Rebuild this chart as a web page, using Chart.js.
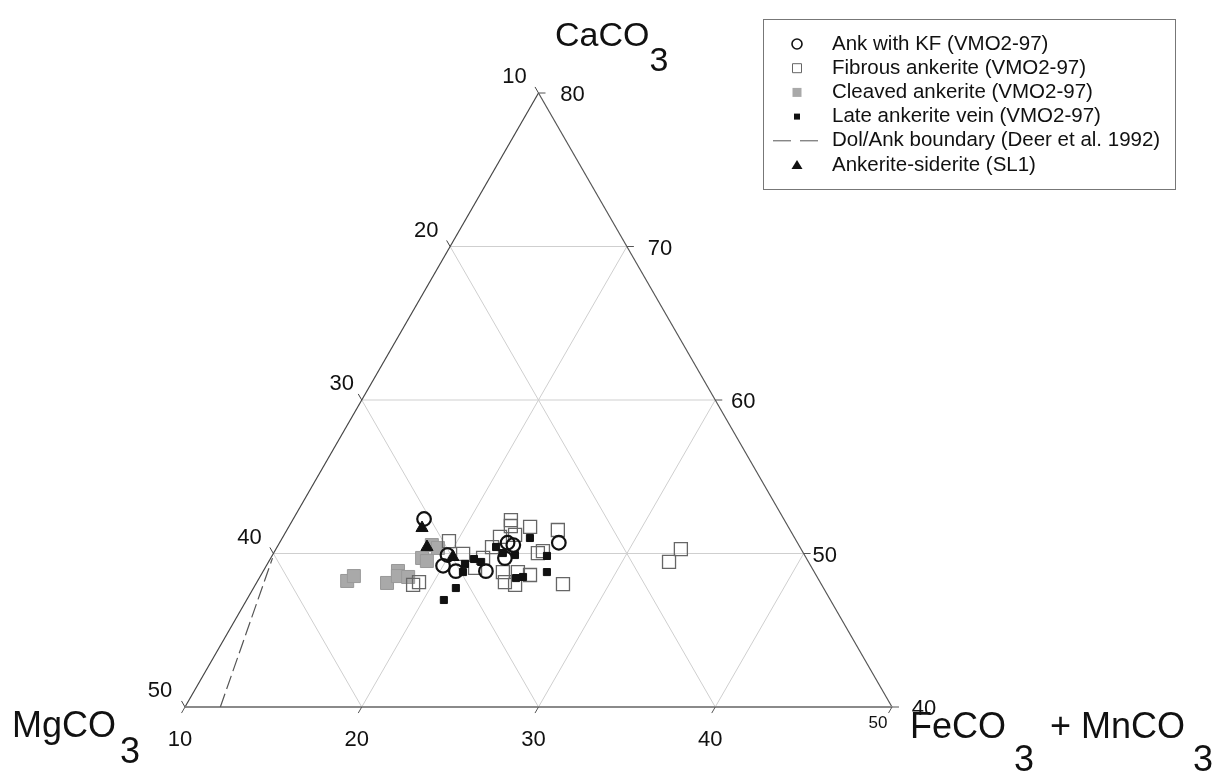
<!DOCTYPE html>
<html><head><meta charset="utf-8">
<script src="https://cdn.jsdelivr.net/npm/chart.js@4/dist/chart.umd.min.js"></script>
<style>html,body{margin:0;padding:0;background:#fff;}#wrap{width:1218px;height:782px;}</style>
</head><body><div id="wrap"><canvas id="c" width="1218" height="782"></canvas></div>
<script>
// ---- tick labels of the three ternary axes ----
const bottomTicks = [10, 20, 30, 40, 50];   // FeCO3 + MnCO3
const leftTicks   = [10, 20, 30, 40, 50];   // MgCO3 (apex -> bottom-left)
const rightTicks  = [80, 70, 60, 50, 40];   // CaCO3 (apex -> bottom-right)

// ---- series (FeCO3+MnCO3 %, CaCO3 %) ----
const ankKF_Fe = [17.4, 19.9, 20.0, 20.9, 22.6, 23.25, 22.9, 23.3, 25.8];
const ankKF_Ca = [52.25, 49.9, 49.2, 48.85, 48.85, 49.7, 50.7, 50.55, 50.7];

const fibrous_Fe = [18.93, 19.17, 19.53, 20.75, 21.88, 22.01, 22.16, 22.28, 22.35, 22.54, 23.07, 23.66, 25.33, 23.59, 24.03, 24.70, 24.44, 25.22, 24.95, 25.17, 27.38, 32.91, 32.66];
const fibrous_Ca = [47.95, 48.14, 50.81, 49.97, 49.06, 49.71, 50.42, 51.08, 52.18, 51.79, 51.21, 51.73, 51.53, 48.79, 48.14, 47.95, 48.79, 48.60, 50.03, 50.16, 48.01, 50.29, 49.45];

const cleaved_Fe = [15.07, 15.29, 17.39, 17.62, 17.78, 18.39, 18.56, 18.93, 18.69, 19.13];
const cleaved_Ca = [48.21, 48.53, 48.08, 48.86, 48.53, 48.47, 49.71, 49.51, 50.55, 50.36];

const late_Fe = [21.45, 21.16, 21.18, 21.33, 21.53, 22.03, 22.39, 22.97, 23.72, 24.01, 25.56, 26.08, 24.53, 24.89];
const late_Ca = [47.75, 46.97, 49.32, 48.79, 49.64, 49.45, 50.42, 50.03, 49.90, 51.01, 49.84, 48.79, 48.40, 48.47];

const sl1_Fe = [17.58, 18.48, 20.27];
const sl1_Ca = [51.66, 50.42, 49.77];

const boundary_Fe = [12.0, 10.1];
const boundary_Ca = [40.0, 49.7];

const seriesNames = ['Ank with KF (VMO2-97)', 'Fibrous ankerite (VMO2-97)', 'Cleaved ankerite (VMO2-97)',
  'Late ankerite vein (VMO2-97)', 'Dol/Ank boundary (Deer et al. 1992)', 'Ankerite-siderite (SL1)'];

// ternary (Fe, Ca) -> cartesian in bottom-axis units
const T = (fe, ca) => ({ x: fe + (ca - 40) / 2, y: ca });
const pts = (fe, ca) => fe.map((f, i) => T(f, ca[i]));

const FONT = '"Liberation Sans", Arial, Helvetica, sans-serif';

function P(chart, fe, ca) {
  const p = T(fe, ca);
  return [chart.scales.x.getPixelForValue(p.x), chart.scales.y.getPixelForValue(p.y)];
}

function chem(ctx, parts, x, y, size, subDrop, preGap, postGap) {
  ctx.font = size + 'px ' + FONT;
  ctx.textAlign = 'left'; ctx.textBaseline = 'alphabetic';
  let cx = x;
  parts.forEach(([t, sub]) => {
    if (sub) cx += preGap;
    ctx.fillText(t, cx, sub ? y + subDrop : y);
    cx += ctx.measureText(t).width + (sub ? postGap : 0);
  });
}

const frame = {
  id: 'frame',
  beforeDatasetsDraw(chart) {
    const ctx = chart.ctx;
    ctx.save();
    const line = (a, b, color, w) => {
      ctx.beginPath(); ctx.moveTo(a[0], a[1]); ctx.lineTo(b[0], b[1]);
      ctx.strokeStyle = color; ctx.lineWidth = w; ctx.stroke();
    };
    const grid = '#cfcfcf';
    rightTicks.slice(1, -1).forEach(c => line(P(chart, 10, c), P(chart, 90 - c, c), grid, 1));
    bottomTicks.slice(1, -1).forEach(f => line(P(chart, f, 40), P(chart, f, 90 - f), grid, 1));
    leftTicks.slice(1, -1).forEach(m => line(P(chart, 60 - m, 40), P(chart, 10, 90 - m), grid, 1));

    // sides
    line(P(chart, 10, 40), P(chart, 10, 80), '#444', 1.2);
    line(P(chart, 50, 40), P(chart, 10, 80), '#555', 1.2);
    line(P(chart, 10, 40), P(chart, 50, 40), '#8a8a8a', 2);

    // ticks + labels
    const L = 7;
    ctx.fillStyle = '#111';
    ctx.textAlign = 'center'; ctx.textBaseline = 'middle';
    const leftDx = [-24, -24, -20, -24, -25];
    leftTicks.forEach((m, i) => {
      const p = P(chart, 10, 90 - m);
      line(p, [p[0] - 0.5 * L, p[1] - 0.866 * L], '#444', 1);
      ctx.font = '22px ' + FONT;
      ctx.fillText(String(m), p[0] + leftDx[i], p[1] - 16);
    });
    const rightDx = [34, 33, 28, 21, 32];
    rightTicks.forEach((c, i) => {
      const p = P(chart, 90 - c, c);
      line(p, [p[0] + L, p[1]], '#555', 1);
      ctx.font = '22px ' + FONT;
      ctx.fillText(String(c), p[0] + rightDx[i], p[1] + 2);
    });
    bottomTicks.forEach((f, i) => {
      const p = P(chart, f, 40);
      line(p, [p[0] - 0.5 * L, p[1] + 0.866 * L], '#555', 1);
      if (i === bottomTicks.length - 1) {
        ctx.font = '17px ' + FONT;
        ctx.fillText(String(f), p[0] - 14, p[1] + 16);
      } else {
        ctx.font = '22px ' + FONT;
        ctx.fillText(String(f), p[0] - 5, p[1] + 33);
      }
    });

    // axis titles
    ctx.fillStyle = '#111';
    chem(ctx, [['CaCO', 0], ['3', 1]], 555, 46, 34, 25, 0, 0);
    chem(ctx, [['MgCO', 0], ['3', 1]], 12, 737, 36, 26, 4, 0);
    chem(ctx, [['FeCO', 0], ['3', 1], ['+ MnCO', 0], ['3', 1]], 910, 738, 36, 33, 8, 16);
    ctx.restore();
  },
  afterDraw(chart) {
    const ctx = chart.ctx;
    ctx.save();
    const bx = 763, by = 19, bw = 412, bh = 170;
    ctx.strokeStyle = '#777'; ctx.lineWidth = 1;
    ctx.strokeRect(bx + 0.5, by + 0.5, bw, bh);
    const mx = 797, tx = 832, y0 = 44, dy = 24.2;
    ctx.font = '20.5px ' + FONT; ctx.fillStyle = '#111';
    ctx.textAlign = 'left'; ctx.textBaseline = 'middle';
    seriesNames.forEach((name, i) => {
      const y = y0 + i * dy;
      ctx.fillStyle = '#111';
      ctx.fillText(name, tx, y);
      ctx.beginPath();
      if (i === 0) {
        ctx.arc(mx, y, 5, 0, Math.PI * 2); ctx.strokeStyle = '#111'; ctx.lineWidth = 1.6; ctx.stroke();
      } else if (i === 1) {
        ctx.rect(mx - 4.5, y - 4.5, 9, 9); ctx.strokeStyle = '#666'; ctx.lineWidth = 1; ctx.stroke();
      } else if (i === 2) {
        ctx.rect(mx - 4.5, y - 4.5, 9, 9); ctx.fillStyle = '#a9a9a9'; ctx.fill();
      } else if (i === 3) {
        ctx.rect(mx - 3, y - 3, 6, 6); ctx.fillStyle = '#111'; ctx.fill();
      } else if (i === 4) {
        ctx.setLineDash([18, 9]); ctx.moveTo(773, y); ctx.lineTo(818, y);
        ctx.strokeStyle = '#555'; ctx.lineWidth = 1; ctx.stroke(); ctx.setLineDash([]);
      } else {
        ctx.moveTo(mx, y - 5); ctx.lineTo(mx + 5.5, y + 4); ctx.lineTo(mx - 5.5, y + 4); ctx.closePath();
        ctx.fillStyle = '#111'; ctx.fill();
      }
    });
    ctx.restore();
  }
};

new Chart(document.getElementById('c'), {
  type: 'scatter',
  data: {
    datasets: [
      { label: seriesNames[5], data: pts(sl1_Fe, sl1_Ca), order: 0, pointStyle: 'triangle',
        pointRadius: 7, backgroundColor: '#111', borderColor: '#111', borderWidth: 1 },
      { label: seriesNames[0], data: pts(ankKF_Fe, ankKF_Ca), order: 1, pointStyle: 'circle',
        pointRadius: 6.8, backgroundColor: 'rgba(0,0,0,0)', borderColor: '#111', borderWidth: 2.2 },
      { label: seriesNames[3], data: pts(late_Fe, late_Ca), order: 2, pointStyle: 'rect',
        pointRadius: 5, backgroundColor: '#111', borderColor: '#111', borderWidth: 1 },
      { label: seriesNames[1], data: pts(fibrous_Fe, fibrous_Ca), order: 3, pointStyle: 'rect',
        pointRadius: 9.2, backgroundColor: 'rgba(0,0,0,0)', borderColor: '#666', borderWidth: 1.3 },
      { label: seriesNames[2], data: pts(cleaved_Fe, cleaved_Ca), order: 4, pointStyle: 'rect',
        pointRadius: 9.2, backgroundColor: '#a9a9a9', borderColor: '#999', borderWidth: 1 },
      { label: seriesNames[4], type: 'line', data: pts(boundary_Fe, boundary_Ca), order: 5,
        showLine: true, pointRadius: 0, borderColor: '#555', borderWidth: 1.2, borderDash: [14, 5], fill: false }
    ]
  },
  options: {
    responsive: false,
    animation: false,
    layout: { padding: { left: 185, right: 326, top: 93, bottom: 75 } },
    scales: {
      x: { type: 'linear', min: 10, max: 50, display: false },
      y: { type: 'linear', min: 40, max: 80, display: false }
    },
    plugins: { legend: { display: false }, tooltip: { enabled: false } }
  },
  plugins: [frame]
});
</script>
</body></html>
